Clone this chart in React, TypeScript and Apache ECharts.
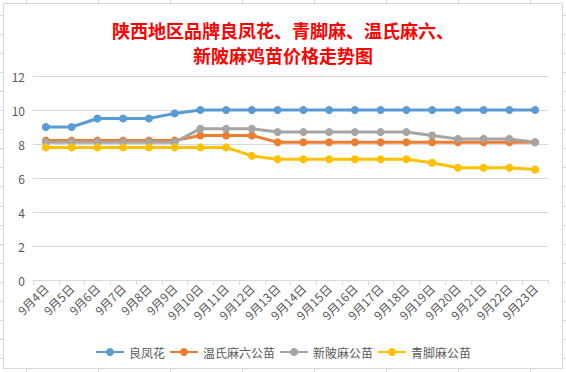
import React, { useEffect, useRef } from "react";
import * as echarts from "echarts";

const categories = [
  "9月4日", "9月5日", "9月6日", "9月7日", "9月8日", "9月9日", "9月10日",
  "9月11日", "9月12日", "9月13日", "9月14日", "9月15日", "9月16日", "9月17日",
  "9月18日", "9月19日", "9月20日", "9月21日", "9月22日", "9月23日",
];

const liangFengHua = [9, 9, 9.5, 9.5, 9.5, 9.8, 10, 10, 10, 10, 10, 10, 10, 10, 10, 10, 10, 10, 10, 10];
const wenShiMaLiu = [8.2, 8.2, 8.2, 8.2, 8.2, 8.2, 8.5, 8.5, 8.5, 8.1, 8.1, 8.1, 8.1, 8.1, 8.1, 8.1, 8.1, 8.1, 8.1, 8.1];
const xinPiMa = [8.1, 8.1, 8.1, 8.1, 8.1, 8.1, 8.9, 8.9, 8.9, 8.7, 8.7, 8.7, 8.7, 8.7, 8.7, 8.5, 8.3, 8.3, 8.3, 8.1];
const qingJiaoMa = [7.8, 7.8, 7.8, 7.8, 7.8, 7.8, 7.8, 7.8, 7.3, 7.1, 7.1, 7.1, 7.1, 7.1, 7.1, 6.9, 6.6, 6.6, 6.6, 6.5];

const seriesNames = ["良凤花", "温氏麻六公苗", "新陂麻公苗", "青脚麻公苗"];
const seriesColors = ["#5B9BD5", "#ED7D31", "#A5A5A5", "#FFC000"];
const seriesData = [liangFengHua, wenShiMaLiu, xinPiMa, qingJiaoMa];

const titleText = "陕西地区品牌良凤花、青脚麻、温氏麻六、\n新陂麻鸡苗价格走势图";

export default function App() {
  const ref = useRef<HTMLDivElement>(null);

  useEffect(() => {
    if (!ref.current) return;
    const chart = echarts.init(ref.current, undefined, { renderer: "svg" });

    const sheetLines: any[] = [];
    const gridColor = "#d9d9d9";
    for (let x = 26; x < 566; x += 72) {
      sheetLines.push({
        type: "line",
        shape: { x1: x + 0.5, y1: 0, x2: x + 0.5, y2: 372 },
        style: { stroke: gridColor, lineWidth: 1 },
        z: -20,
      });
    }
    for (let y = 15; y < 372; y += 19.05) {
      sheetLines.push({
        type: "line",
        shape: { x1: 0, y1: Math.round(y) + 0.5, x2: 566, y2: Math.round(y) + 0.5 },
        style: { stroke: gridColor, lineWidth: 1 },
        z: -20,
      });
    }
    sheetLines.push({
      type: "rect",
      shape: { x: 3.5, y: 3.5, width: 559, height: 365 },
      style: { fill: "#ffffff", stroke: gridColor, lineWidth: 1 },
      z: -10,
    });

    chart.setOption({
      animation: false,
      backgroundColor: "#ffffff",
      title: {
        text: titleText,
        left: "center",
        top: 12,
        textStyle: {
          color: "#FF0000",
          fontSize: 18,
          fontWeight: "bold",
          lineHeight: 25,
          fontFamily: "Noto Sans CJK SC",
        },
      },
      graphic: { elements: sheetLines },
      grid: { left: 33, right: 18, top: 76, bottom: 92, containLabel: false },
      legend: {
        bottom: 9,
        left: "center",
        itemGap: 4,
        itemWidth: 28,
        itemHeight: 10,
        textStyle: { color: "#595959", fontSize: 12, fontFamily: "Noto Sans CJK SC" },
        data: seriesNames,
      },
      xAxis: {
        type: "category",
        data: categories,
        boundaryGap: true,
        axisLine: { lineStyle: { color: gridColor } },
        axisTick: { show: true, length: 5, lineStyle: { color: gridColor } },
        axisLabel: {
          rotate: 45,
          interval: 0,
          color: "#595959",
          fontSize: 12,
          fontFamily: "Noto Sans CJK SC",
          margin: 6,
        },
      },
      yAxis: {
        type: "value",
        min: 0,
        max: 12,
        interval: 2,
        axisLine: { show: false },
        axisTick: { show: false },
        splitLine: { lineStyle: { color: gridColor } },
        axisLabel: { color: "#595959", fontSize: 12, fontFamily: "Noto Sans CJK SC", margin: 8 },
      },
      series: seriesNames.map((name, i) => ({
        name,
        type: "line",
        data: seriesData[i],
        symbol: "circle",
        symbolSize: 8,
        color: seriesColors[i],
        lineStyle: { width: 3, color: seriesColors[i] },
        itemStyle: { color: seriesColors[i] },
      })),
    });

    return () => chart.dispose();
  }, []);

  return (
    <div
      ref={ref}
      style={{ position: "fixed", left: 0, top: 0, width: 566, height: 372 }}
    />
  );
}
